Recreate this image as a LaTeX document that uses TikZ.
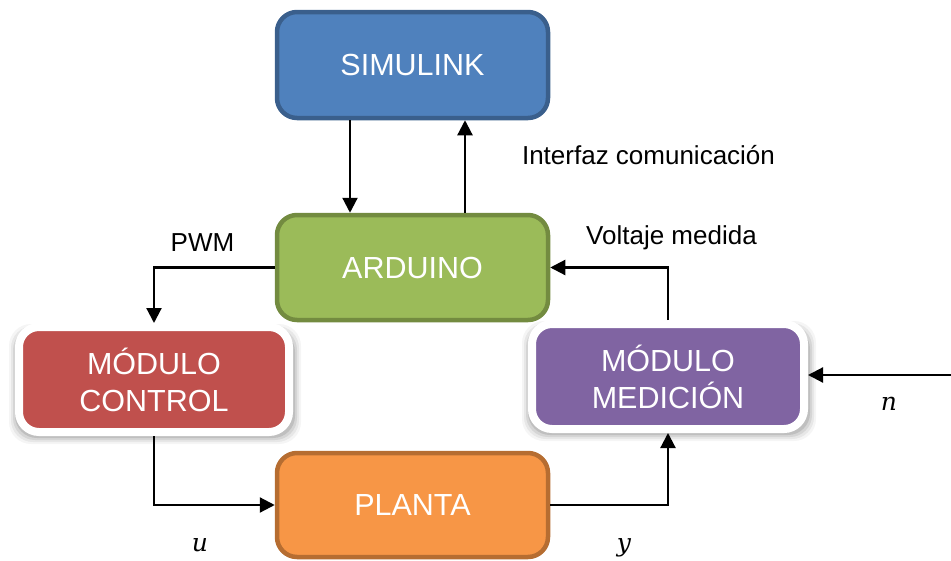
\documentclass[tikz,border=0pt]{standalone}
\usepackage{fontspec}
\setmainfont{Liberation Sans}
\newfontfamily\varfont{DejaVu Serif}
\usetikzlibrary{arrows.meta,backgrounds}
\definecolor{simfill}{HTML}{4F81BD}
\definecolor{simdraw}{HTML}{3A5F8C}
\definecolor{ardfill}{HTML}{9BBB59}
\definecolor{arddraw}{HTML}{738B40}
\definecolor{plafill}{HTML}{F79646}
\definecolor{pladraw}{HTML}{B66D31}
\definecolor{ctlfill}{HTML}{C0504D}
\definecolor{medfill}{HTML}{8064A2}
\tikzset{
  blk/.style={rectangle, rounded corners=20pt, line width=4.5pt, text=white,
    align=center, font=\fontsize{30.5}{37}\selectfont,
    minimum width=271pt, inner sep=0pt},
  glowblk/.style={rectangle, rounded corners=20pt, line width=8pt, draw=white, text=white,
    align=center, font=\fontsize{30.5}{37}\selectfont, inner sep=0pt},
  arr/.style={line width=2.2pt, -{Triangle[length=15pt,width=15pt]}},
  lbl/.style={font=\fontsize{26}{30}\selectfont, inner sep=0pt},
  mlbl/.style={font=\varfont\itshape\fontsize{25}{28}\selectfont, inner sep=0pt},
}
\begin{document}
\begin{tikzpicture}[x=1pt,y=-1pt]
\useasboundingbox (0,0) rectangle (951,560);
\node[blk, fill=simfill, draw=simdraw, minimum height=106pt] (sim) at (412.5,65) {SIMULINK};
\node[blk, fill=ardfill, draw=arddraw, minimum height=105pt] (ard) at (412.5,267.5) {ARDUINO};
\node[blk, fill=plafill, draw=pladraw, minimum height=104pt] (pla) at (412.5,505) {PLANTA};
\node[glowblk, fill=ctlfill, minimum width=270pt, minimum height=105pt] (ctl) at (154,379.5) {MÓDULO\\CONTROL};
\node[glowblk, fill=medfill, minimum width=272pt, minimum height=105pt] (med) at (668,376.5) {MÓDULO\\MEDICIÓN};

\begin{scope}[on background layer]
\foreach \n in {ctl,med}{
  \foreach \d/\o in {7/0.04,5/0.06,3/0.08,1/0.1}{
    \fill[black, opacity=\o, rounded corners=22pt]
      ([shift={(-\d+1,8-\d)}]\n.north west) rectangle ([shift={(\d+1,\d+1)}]\n.south east);
  }
}
\end{scope}

\coordinate (a1) at (350,0);
\coordinate (a2) at (465,0);
\coordinate (nin) at (951,375);

\draw[arr] (sim.south -| a1) -- (ard.north -| a1);
\draw[arr] (ard.north -| a2) -- (sim.south -| a2);
\draw[arr] (ard.west) -| (ctl.north);
\draw[arr] (ctl.south) |- (pla.west);
\draw[arr] (pla.east) -| (med.south);
\draw[arr] (med.north) |- (ard.east);
\draw[arr] (nin) -- (nin -| med.east);

\node[lbl] (t1) at (648.5,155) {Interfaz comunicación};
\node[lbl] (t2) at (671.5,238) {Voltaje medida};
\node[lbl] (t3) at (202.5,243) {PWM};
\node[mlbl] (tu) at (200,545) {u};
\node[mlbl] (ty) at (624,548) {y};
\node[mlbl] (tn) at (889,404) {n};
\end{tikzpicture}
\end{document}
